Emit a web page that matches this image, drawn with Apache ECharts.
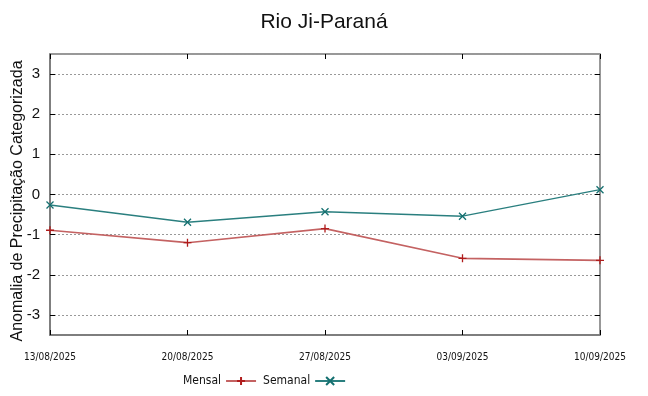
<!DOCTYPE html>
<html>
<head>
<meta charset="utf-8">
<script src="https://cdn.jsdelivr.net/npm/echarts@6/dist/echarts.min.js"></script>
<style>html,body{margin:0;padding:0;background:#fff}#c{width:648px;height:396px}</style>
</head>
<body>
<div id="c"></div>
<script>
var categories = ['13/08/2025', '20/08/2025', '27/08/2025', '03/09/2025', '10/09/2025'];
var mensal = [-0.89, -1.20, -0.85, -1.59, -1.64];
var semanal = [-0.26, -0.69, -0.43, -0.54, 0.12];
var yTicks = [-3, -2, -1, 0, 1, 2, 3];
var titleText = 'Rio Ji-Paraná';
var yName = 'Anomalia de Precipitação Categorizada';

var chart = echarts.init(document.getElementById('c'));
var border = '#777';
var narrow = '"DejaVu Sans Condensed", "Liberation Sans", sans-serif';
var plus = 'path://M0,5L10,5M5,0L5,10';
var cross = 'path://M0,0L10,10M10,0L0,10';
var G = {left: 50, right: 48, top: 54, bottom: 61};
var plotW = 648 - G.left - G.right, plotH = 396 - G.top - G.bottom;
function tickX(pos, off) {
  return {type: 'category', data: categories, boundaryGap: false, position: pos, offset: off,
    axisLine: {show: false, onZero: false}, axisTick: {show: true, length: 5, lineStyle: {color: '#000'}},
    axisLabel: {show: false}, splitLine: {show: false}};
}
function tickY(pos, off) {
  return {type: 'value', min: -3.5, max: 3.5, position: pos, offset: off,
    axisLine: {show: false, onZero: false}, axisTick: {show: true, length: 5, customValues: yTicks, lineStyle: {color: '#000'}},
    axisLabel: {show: false}, splitLine: {show: false}};
}
chart.setOption({
  animation: false,
  title: {
    text: titleText, left: 'center', top: 7,
    textStyle: {fontFamily: 'Liberation Sans', fontSize: 21, fontWeight: 'normal', color: '#111'}
  },
  graphic: [{
    type: 'text', x: 18, y: 201, rotation: Math.PI / 2,
    style: {text: yName, fontFamily: 'Liberation Sans', fontSize: 16, fill: '#111', align: 'center', verticalAlign: 'middle'}
  }],
  legend: {
    left: 183, top: 375, padding: 0, align: 'right', itemGap: 6, itemWidth: 30, itemHeight: 10,
    textStyle: {fontFamily: narrow, fontSize: 12, color: '#111'},
    data: ['Mensal', 'Semanal']
  },
  grid: {left: G.left, right: G.right, top: G.top, bottom: G.bottom, show: true, borderColor: border, borderWidth: 1.5, outerBoundsMode: 'none', containLabel: false},
  xAxis: [{
    type: 'category', data: categories, boundaryGap: false,
    axisLine: {show: true, onZero: false, lineStyle: {color: border, width: 1.5}},
    axisTick: {show: false},
    axisLabel: {margin: 17, fontFamily: narrow, fontSize: 10, color: '#111'},
    splitLine: {show: false}
  }, tickX('top', -plotH), tickX('bottom', -plotH)],
  yAxis: [{
    type: 'value', min: -3.5, max: 3.5,
    axisLine: {show: true, onZero: false, lineStyle: {color: border, width: 1.5}},
    axisTick: {show: false},
    axisLabel: {customValues: yTicks, margin: 10, fontFamily: 'Liberation Sans', fontSize: 15, color: '#111'},
    splitLine: {show: true, lineStyle: {color: '#999', type: [2, 2], width: 1}}
  }, tickY('right', -plotW), tickY('left', -plotW)],
  series: [{
    name: 'Mensal', type: 'line', data: mensal, xAxisIndex: 0, yAxisIndex: 0,
    symbol: plus, symbolSize: 8, showAllSymbol: true,
    lineStyle: {color: '#c46262', width: 1.6},
    itemStyle: {color: '#b01c1c', borderColor: '#b01c1c', borderWidth: 1.3}
  }, {
    name: 'Semanal', type: 'line', data: semanal, xAxisIndex: 0, yAxisIndex: 0,
    symbol: cross, symbolSize: 7, showAllSymbol: true,
    lineStyle: {color: '#2a7f7f', width: 1.4},
    itemStyle: {color: '#147070', borderColor: '#147070', borderWidth: 1.3}
  }]
});
</script>
</body>
</html>
